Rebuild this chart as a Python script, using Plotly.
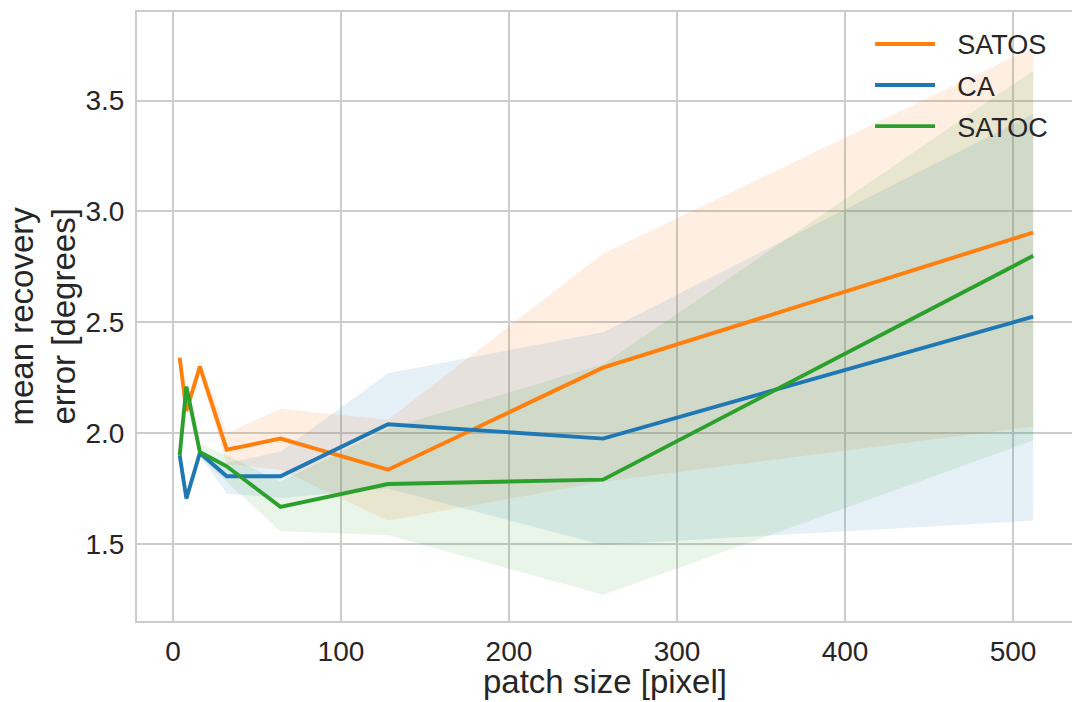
import plotly.graph_objects as go

patch_size = [4, 8, 16, 32, 64, 128, 256, 512]

satos_mean = [2.34, 2.10, 2.30, 1.925, 1.975, 1.835, 2.295, 2.905]
satos_low = [2.33, 2.08, 2.27, 1.86, 1.835, 1.605, 1.78, 2.03]
satos_high = [2.35, 2.12, 2.33, 2.00, 2.11, 2.06, 2.81, 3.74]

ca_mean = [1.90, 1.705, 1.91, 1.805, 1.805, 2.04, 1.975, 2.525]
ca_low = [1.89, 1.69, 1.90, 1.727, 1.707, 1.75, 1.495, 1.605]
ca_high = [1.91, 1.72, 1.92, 1.865, 1.917, 2.27, 2.455, 3.44]

satoc_mean = [1.90, 2.21, 1.915, 1.85, 1.667, 1.77, 1.79, 2.80]
satoc_low = [1.89, 2.19, 1.89, 1.78, 1.557, 1.54, 1.27, 1.966]
satoc_high = [1.91, 2.23, 1.95, 1.90, 1.78, 2.02, 2.31, 3.635]

series = [
    ("SATOS", satos_mean, satos_low, satos_high, "#ff7f0e", "rgba(255,127,14,0.12)"),
    ("CA", ca_mean, ca_low, ca_high, "#1f77b4", "rgba(31,119,180,0.11)"),
    ("SATOC", satoc_mean, satoc_low, satoc_high, "#2ca02c", "rgba(44,160,44,0.11)"),
]

FONT = "Liberation Sans, Arial, sans-serif"
TXT = "#262626"
fig = go.Figure()
for name, mean, low, high, color, fill in series:
    fig.add_trace(go.Scatter(
        x=patch_size + patch_size[::-1],
        y=high + low[::-1],
        fill="toself", fillcolor=fill, mode="lines",
        line=dict(width=0, color=fill), hoverinfo="skip", showlegend=False,
    ))
for i, (name, mean, low, high, color, fill) in enumerate(series):
    fig.add_trace(go.Scatter(
        x=patch_size, y=mean, mode="lines",
        name="\u00a0\u00a0\u200a" + name, legendgroup=f"g{i}",
        line=dict(color=color, width=3.9),
    ))

grid = "#cccccc"
fig.update_layout(
    width=1072, height=702,
    margin=dict(l=137, r=0, t=12, b=81),
    paper_bgcolor="white", plot_bgcolor="white",
    font=dict(family=FONT, size=27, color=TXT),
    showlegend=True,
    legend=dict(x=0.784, y=0.987, xanchor="left", yanchor="top",
                bgcolor="rgba(0,0,0,0)", font=dict(size=27, color=TXT),
                itemwidth=60, tracegroupgap=3),
    xaxis=dict(range=[-21.4, 535.1], tickvals=[0, 100, 200, 300, 400, 500],
               showgrid=True, gridcolor=grid, gridwidth=2,
               showline=True, linecolor=grid, linewidth=2, mirror=True,
               zeroline=False, ticks="", ticklabelstandoff=4,
               tickfont=dict(size=28, color=TXT)),
    yaxis=dict(range=[1.152, 3.90], tickvals=[1.5, 2.0, 2.5, 3.0, 3.5],
               ticktext=["1.5", "2.0", "2.5", "3.0", "3.5"],
               showgrid=True, gridcolor=grid, gridwidth=2,
               showline=True, linecolor=grid, linewidth=2, mirror=False,
               zeroline=False, ticks="", ticklabelstandoff=5,
               tickfont=dict(size=28, color=TXT)),
    annotations=[
        dict(text="patch size [pixel]", xref="paper", yref="paper",
             x=0.5, y=(621 - 681) / 609, xanchor="center", yanchor="middle",
             showarrow=False, font=dict(size=33, color=TXT)),
        dict(text="mean recovery<br>error [degrees]", xref="paper", yref="paper",
             x=(42 - 137) / 935, y=0.5, xanchor="center", yanchor="middle",
             textangle=-90, showarrow=False, font=dict(size=33, color=TXT)),
    ],
)

fig.write_html("out.html")
